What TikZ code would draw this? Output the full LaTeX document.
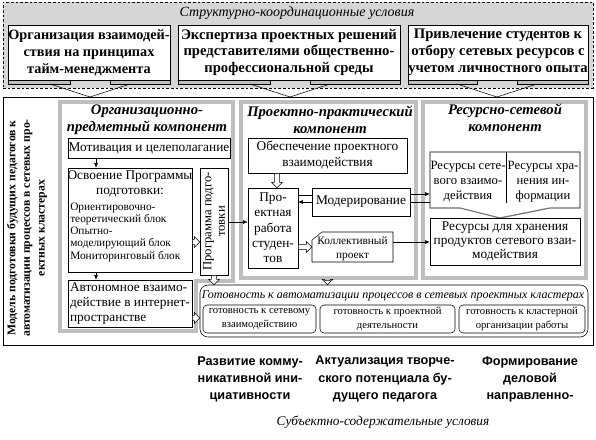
\documentclass[tikz,border=0pt]{standalone}
\usepackage{fontspec}
\setmainfont{Liberation Serif}
\newfontfamily\sansbold{Liberation Sans}
\usetikzlibrary{positioning,calc,fit,arrows.meta}
\definecolor{zone_gray}{RGB}{214,214,214}
\definecolor{frame_gray}{RGB}{190,190,190}

\begin{document}
\begin{tikzpicture}[x=0.75pt,y=-0.75pt,
    box/.style={draw, fill=white, inner sep=0pt},
    txt/.style={inner sep=0pt, align=center, font=\fontsize{10}{11.5}\selectfont},
    toptxt/.style={txt, font=\bfseries\fontsize{11}{12.7}\selectfont},
    comp/.style={draw, double=frame_gray, double distance=2.5pt, line width=0.5pt},
    comptitle/.style={font=\bfseries\itshape\fontsize{11}{12.5}\selectfont, align=center},
    subtxt/.style={txt, font=\fontsize{8}{10}\selectfont},
    result/.style={font=\sansbold\bfseries\fontsize{9.5}{12.8}\selectfont, align=center},
    link/.style={-{Latex[length=3.5pt,width=3pt]}},
    harr/.style={fill=white, to path={let \p1=(\tikztostart), \p2=(\tikztotarget) in
        (\x1,\y1+2pt) -- (\x2-4pt,\y1+2pt) -- (\x2-4pt,\y1+4pt) -- (\x2,\y1)
        -- (\x2-4pt,\y1-4pt) -- (\x2-4pt,\y1-2pt) -- (\x1,\y1-2pt) -- cycle}},
    varr/.style={fill=white, to path={let \p1=(\tikztostart), \p2=(\tikztotarget) in
        (\x1-2pt,\y1) -- (\x1-2pt,\y2+4pt) -- (\x1-4pt,\y2+4pt) -- (\x1,\y2)
        -- (\x1+4pt,\y2+4pt) -- (\x1+2pt,\y2+4pt) -- (\x1+2pt,\y1) -- cycle}}]
        \useasboundingbox (0,0) rectangle (596,439);
        % Structural conditions
        \node[draw, dash pattern=on 2pt off 1.5pt, fill=zone_gray, inner sep=0pt, fit={(3,2)(593,88)}] (zone) {};
        \node[font=\itshape\fontsize{10.5}{12}\selectfont] (zonetitle) at (297,13) {Структурно-координационные условия};
        \node[box, line width=0.6pt, fit={(8,25)(170,80)}] (t1) {};
        \node[box, line width=0.6pt, fit={(178,25)(400,80)}] (t2) {};
        \node[box, line width=0.6pt, fit={(408,25)(588,80)}] (t3) {};
        \node[toptxt, font=\bfseries\fontsize{10.7}{12.7}\selectfont] (t1text) at (t1.center) {Организация взаимодей-\\ствия на принципах\\тайм-менеджмента};
        \node[toptxt] (t2text) at (t2.center) {Экспертиза проектных решений\\представителями общественно-\\профессиональной среды};
        \node[toptxt] (t3text) at (t3.center) {Привлечение студентов к\\отбору сетевых ресурсов с\\учетом личностного опыта};
        % Model frame
        \node[draw, inner sep=0pt, fit={(3,97)(593,345)}] (model) {};
        \foreach \l/\r/\t in {8/170/90, 178/400/290, 408/588/497}{
            \draw[fill=frame_gray] (\l,80) rectangle (\t-20,84);
            \draw[fill=frame_gray] (\t+20,80) rectangle (\r,84);
            \draw (\t-40,84) -- (\t,97) -- (\t+40,84);
        }
        \node[rotate=90, font=\bfseries\fontsize{8.8}{11}\selectfont, align=center] (modeltitle) at (27,228)
            {Модель подготовки будущих педагогов к\\автоматизации процессов в сетевых про-\\ектных кластерах};
        % Components
        \draw[comp] (60,102) -- (233,102) -- (233,281) -- (196,281) -- (196,331) -- (60,331) -- cycle;
        \node[comp, inner sep=0pt, outer sep=2pt, fit={(241,102)(416,278)}] (pp) {};
        \node[comp, inner sep=0pt, outer sep=2pt, fit={(423,102)(586,278)}] (rs) {};
        \node[comptitle] (c1title) at (147,120) {Организационно-\\предметный компонент};
        \node[comptitle] (c2title) at (330,120) {Проектно-практический\\компонент};
        \node[comptitle] (c3title) at (505,118) {Ресурсно-сетевой\\компонент};
        % Organisational component
        \node[box, fit={(68,138)(230,158)}] (mot) {};
        \node[txt] (mottext) at (mot.center) {Мотивация и целеполагание};
        \node[box, fit={(68,168)(192,272)}] (osv) {};
        \node[txt, font=\fontsize{10}{10.8}\selectfont] (osvhead) at (130,184) {Освоение Программы\\подготовки:};
        \node[anchor=west, align=left, inner sep=0pt, font=\fontsize{8.5}{9.2}\selectfont] (osvlist) at (70,232)
            {Ориентировочно-\\теоретический блок\\Опытно-\\моделирующий блок\\Мониторинговый блок};
        \node[box, fit={(200,168)(228,275)}] (prog) {};
        \node[rotate=90, align=center, font=\fontsize{9.5}{10}\selectfont] (progtext) at (prog.center) {Программа подго-\\товки};
        \node[box, fit={(68,280)(192,327)}] (aut) {};
        \node[txt, align=left, font=\fontsize{10}{11}\selectfont, anchor=west] (auttext) at ([xshift=1.5pt]aut.west)
            {Автономное взаимо-\\действие в интернет-\\пространстве};
        % Project component
        \node[box, fit={(248,138)(407,173)}] (obe) {};
        \node[txt, font=\fontsize{10}{12}\selectfont] (obetext) at (obe.center) {Обеспечение проектного\\взаимодействия};
        \node[box, fit={(248,188)(298,268)}] (pr) {};
        \node[txt] (prtext) at (pr.center) {Про-\\ектная\\работа\\студен-\\тов};
        \node[box, fit={(312,188)(410,216)}] (mod) {};
        \node[txt] (modtext) at (mod.center) {Модерирование};
        \draw[fill=white] (312,240) -- (322,232) -- (393,232) -- (393,262) -- (312,262) -- cycle;
        \node[inner sep=0pt, fit={(312,232)(393,262)}] (kol) {};
        \node[txt, font=\fontsize{8.5}{10.5}\selectfont] (koltext) at ([yshift=-1pt]kol.center) {Коллективный\\проект};
        % Resource component
        \draw[fill=white, draw=black!55, line width=0.9pt] (430,152) -- (580,152) -- (580,208) -- (550,208)
            -- (500,218) -- (460,208) -- (430,208) -- cycle;
        \node[inner sep=0pt, fit={(430,152)(580,208)}] (res) {};
        \draw (506,152) -- (506,203);
        \node[txt, font=\fontsize{9.5}{11.2}\selectfont] (resnet) at (468,182) {Ресурсы сете-\\вого взаимо-\\действия};
        \node[txt, font=\fontsize{9.5}{11.2}\selectfont] (resinf) at (543,182) {Ресурсы хра-\\нения ин-\\формации};
        \node[box, fit={(430,218)(580,265)}] (hran) {};
        \node[txt, font=\fontsize{10}{10.3}\selectfont] (hrantext) at (hran.center) {Ресурсы для хранения\\продуктов сетевого взаи-\\модействия};
        % Readiness
        \node[draw, fill=white, rounded corners=6pt, inner sep=0pt, fit={(200,285)(588,337)}] (got) {};
        \node[font=\itshape\fontsize{9}{11}\selectfont] (gottitle) at (393,296) {Готовность к автоматизации процессов в сетевых проектных кластерах};
        \node[box, rounded corners=3pt, fit={(203,305)(316,333)}] (g1) {};
        \node[box, rounded corners=3pt, fit={(320,305)(455,333)}] (g2) {};
        \node[box, rounded corners=3pt, fit={(459,305)(585,333)}] (g3) {};
        \node[subtxt] (g1text) at (g1.center) {готовность к сетевому\\взаимодействию};
        \node[subtxt] (g2text) at (g2.center) {готовность к проектной\\деятельности};
        \node[subtxt] (g3text) at (g3.center) {готовность к кластерной\\организации работы};
        % Connectors
        \draw[link] (mot.south -| 96,0) -- (osv.north -| 96,0);
        \draw[link] (osv.south -| 96,0) -- (aut.north -| 96,0);
        \draw[harr] (osv.east |- 0,242) to (prog.west |- 0,242);
        \draw[harr] (aut.east |- 0,318) to (got.west |- 0,318);
        \draw[varr] (prog.south) to (prog.south |- got.north);
        \draw[link] (prog.east |- 0,222) -- (pr.west |- 0,222);
        \draw[varr] (obe.south -| 277,0) to (pr.north -| 277,0);
        \draw (mod.west |- 0,195) -- (pr.east |- 0,195);
        \draw[link] (mod.west |- 0,202) -- (pr.east |- 0,202);
        \draw[harr] (pr.east |- 0,247) to (kol.west |- 0,247);
        \draw[link] (mod.east |- 0,194) -- (res.west |- 0,194);
        \draw (mod.east |- 0,202) -- (res.west |- 0,202);
        \draw[link] (kol.east |- 0,242) -- (hran.west |- 0,242);
        \draw[varr] (pp.south -| obe.south) to (obe.south |- got.north);
        % Subject conditions
        \node[result] (r1) at (250,379) {Развитие комму-\\никативной ини-\\циативности};
        \node[result] (r2) at (385,379) {Актуализация творче-\\ского потенциала бу-\\дущего педагога};
        \node[result] (r3) at (530,379) {Формирование\\деловой\\направленно-};
        \node[font=\itshape\fontsize{10}{12}\selectfont] (subjtitle) at (383,422) {Субъектно-содержательные условия};
\end{tikzpicture}
\end{document}
